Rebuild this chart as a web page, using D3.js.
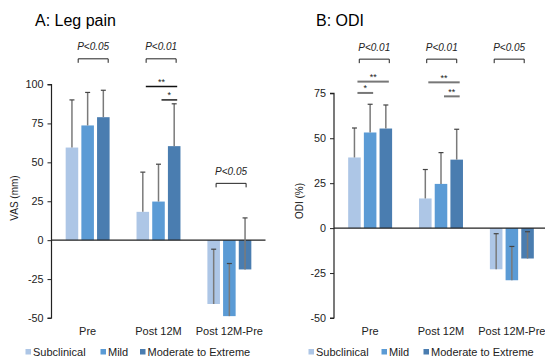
<!DOCTYPE html>
<html><head><meta charset="utf-8">
<script src="https://cdn.jsdelivr.net/npm/d3@7"></script>
<style>
html,body{margin:0;padding:0;background:#fff;}
svg{display:block;font-family:"Liberation Sans",Arial,sans-serif;}
</style></head>
<body><svg id="c" width="545" height="358"></svg>
<script>
// ---------- data ----------
const categories = ["Pre", "Post 12M", "Post 12M-Pre"];
const seriesNames = ["Subclinical", "Mild", "Moderate to Extreme"];
const seriesColors = ["#adc6e6", "#5b9bd5", "#4a7db0"];

const vasSubclinical   = [59.5, 18.2, -41.0];
const vasMild          = [73.7, 24.8, -48.8];
const vasModerate      = [79.0, 60.4, -18.8];
const vasSubclinicalSD = [30.6, 25.5, 35.2];
const vasMildSD        = [21.2, 24.0, 33.8];
const vasModerateSD    = [17.3, 27.2, 33.1];

const odiSubclinical   = [39.3, 16.5, -22.9];
const odiMild          = [53.2, 24.6, -29.0];
const odiModerate      = [55.4, 38.1, -16.9];
const odiSubclinicalSD = [16.4, 16.1, 19.8];
const odiMildSD        = [15.7, 17.4, 18.8];
const odiModerateSD    = [13.1, 16.9, 14.9];

const vasTicks = [-50, -25, 0, 25, 50, 75, 100];
const odiTicks = [-50, -25, 0, 25, 50, 75];

// group p-values: [category index, label, bracket level]
const vasGroupP = [[0, "P<0.05", 116.5], [1, "P<0.01", 116.5], [2, "P<0.05", 36.5]];
const odiGroupP = [[0, "P<0.01", 94], [1, "P<0.01", 94], [2, "P<0.05", 94]];
// pairwise: [category, from series, to series, label, level]
const vasPairs = [[1, 0, 2, "**", 98.7], [1, 1, 2, "*", 90.1]];
const odiPairs = [[0, 0, 2, "**", 81.5], [0, 0, 1, "*", 75.2], [1, 0, 2, "**", 81.1], [1, 1, 2, "**", 73.3]];

// ---------- drawing ----------
const svg = d3.select("#c");

function panel(o) {
  const g = svg.append("g");
  const y = d3.scaleLinear().domain([-50, o.ymax]).range([318, o.yTop]);
  const x0 = d3.scaleBand().domain(categories).range([o.left, o.left + 214])
    .paddingInner(0.38).paddingOuter(0.2);
  const x1 = d3.scaleBand().domain(seriesNames).range([0, x0.bandwidth()]).paddingInner(0.2);

  // title
  g.append("text").attr("x", o.titleX).attr("y", 25.5).attr("font-size", 16)
    .attr("fill", "#000").text(o.title);

  // bars
  const vals = [o.sub, o.mild, o.mod];
  const sds = [o.subSD, o.mildSD, o.modSD];
  seriesNames.forEach((s, si) => {
    categories.forEach((c, ci) => {
      const v = vals[si][ci];
      const bx = x0(c) + x1(s);
      g.append("rect").attr("x", bx).attr("width", x1.bandwidth())
        .attr("y", y(Math.max(0, v))).attr("height", Math.abs(y(v) - y(0)))
        .attr("fill", seriesColors[si]);
    });
  });

  // zero line and y axis
  g.append("line").attr("x1", o.left).attr("x2", o.left + 214)
    .attr("y1", y(0)).attr("y2", y(0)).attr("stroke", "#222").attr("stroke-width", 1.2);
  const ax = g.append("g").attr("transform", `translate(${o.left},0)`)
    .call(d3.axisLeft(y).tickValues(o.ticks).tickSize(4).tickPadding(4).tickFormat(d => String(d)));
  ax.select(".domain").attr("stroke", "#222").attr("stroke-width", 1.2).attr("d", `M-4,${y(o.ticks[o.ticks.length-1])}H0V${y(-50)}H-4`);
  ax.selectAll(".tick line").attr("stroke", "#222");
  ax.selectAll(".tick text").attr("font-size", 10.8).attr("fill", "#222")
    .attr("font-family", "Liberation Sans, Arial, sans-serif");

  // error bars (plus direction)
  seriesNames.forEach((s, si) => {
    categories.forEach((c, ci) => {
      const v = vals[si][ci], e = v + sds[si][ci];
      const cx = x0(c) + x1(s) + x1.bandwidth() / 2;
      g.append("line").attr("x1", cx).attr("x2", cx).attr("y1", y(v)).attr("y2", y(e))
        .attr("stroke", "#7a7a7a").attr("stroke-width", 1.5);
      g.append("line").attr("x1", cx - 2.5).attr("x2", cx + 2.5).attr("y1", y(e)).attr("y2", y(e))
        .attr("stroke", "#444").attr("stroke-width", 1.2);
    });
  });

  // group brackets
  o.groupP.forEach(([ci, lab, lvl], i) => {
    const xs = x0(categories[ci]) + o.bracketShift[i];
    const xe = xs + 30;
    const yy = y(lvl);
    g.append("path").attr("d", `M${xs},${yy + 4}V${yy}H${xe}V${yy + 4}`)
      .attr("fill", "none").attr("stroke", "#222").attr("stroke-width", 1);
    g.append("text").attr("x", (xs + xe) / 2).attr("y", yy - 8.5).attr("text-anchor", "middle")
      .attr("font-size", 10).attr("font-style", "italic").attr("fill", "#222").text(lab);
  });

  // pairwise lines
  o.pairs.forEach(([ci, a, b, lab, lvl]) => {
    const xa = x0(categories[ci]) + x1(seriesNames[a]) + x1.bandwidth() / 2 + 3;
    const xb = x0(categories[ci]) + x1(seriesNames[b]) + x1.bandwidth() / 2 + 3;
    const yy = y(lvl);
    g.append("line").attr("x1", xa).attr("x2", xb).attr("y1", yy).attr("y2", yy)
      .attr("stroke", o.pairColor).attr("stroke-width", o.pairWidth);
    g.append("text").attr("x", (xa + xb) / 2).attr("y", yy - 1.5).attr("text-anchor", "middle")
      .attr("font-size", 9).attr("fill", "#222").text(lab);
  });

  // category labels
  categories.forEach(c => {
    g.append("text").attr("x", x0(c) + x0.bandwidth() / 2).attr("y", 335)
      .attr("text-anchor", "middle").attr("font-size", 11).attr("fill", "#222").text(c);
  });

  // y label
  g.append("text").attr("transform", `translate(${o.ylabX},${o.ylabY}) rotate(-90)`)
    .attr("text-anchor", "middle").attr("font-size", 10).attr("fill", "#222").text(o.ylab);

  // legend
  seriesNames.forEach((s, si) => {
    g.append("rect").attr("x", o.legX[si]).attr("y", 349).attr("width", 5.5).attr("height", 5.5)
      .attr("fill", seriesColors[si]);
    g.append("text").attr("x", o.legX[si] + 7.5).attr("y", 355.5).attr("font-size", 11)
      .attr("fill", "#222").text(s);
  });
}

panel({
  title: "A: Leg pain", titleX: 35, left: 51.5, ymax: 100, yTop: 84.5, ticks: vasTicks,
  sub: vasSubclinical, mild: vasMild, mod: vasModerate,
  subSD: vasSubclinicalSD, mildSD: vasMildSD, modSD: vasModerateSD,
  groupP: vasGroupP, bracketShift: [12.5, 9.6, 8.7],
  pairs: vasPairs, pairColor: "#111", pairWidth: 1.4,
  ylab: "VAS (mm)", ylabX: 18, ylabY: 198,
  legX: [25.5, 100.5, 140]
});
panel({
  title: "B: ODI", titleX: 316, left: 334, ymax: 75, yTop: 93.3, ticks: odiTicks,
  sub: odiSubclinical, mild: odiMild, mod: odiModerate,
  subSD: odiSubclinicalSD, mildSD: odiMildSD, modSD: odiModerateSD,
  groupP: odiGroupP, bracketShift: [11.1, 7.7, 4.3],
  pairs: odiPairs, pairColor: "#777", pairWidth: 2,
  ylab: "ODI (%)", ylabX: 303, ylabY: 201,
  legX: [308.5, 381.5, 423.5]
});
</script></body></html>
